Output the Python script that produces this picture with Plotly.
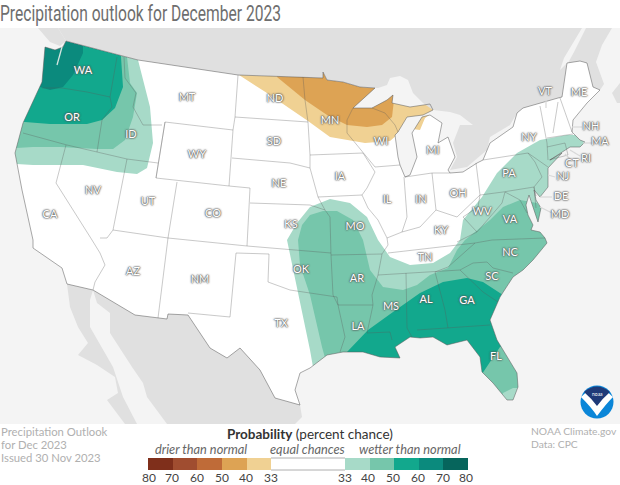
import plotly.graph_objects as go

# Mapa dibujado en coordenadas de la imagen (x 0-620, y 0-485, y hacia abajo)
PANEL_TOP, PANEL_BOTTOM = 28, 424

# Contorno de EEUU, en sentido horario
border_north = [(66, 41), (138, 60), (238, 75), (303, 77), (323, 78), (323, 72), (327, 80), (343, 82),
                (360, 87), (375, 88)]
lakes_shore = [(353, 108), (372, 108), (387, 100), (393, 95), (392, 103), (410, 107), (430, 104), (433, 110),
               (423, 115), (407, 117), (398, 132), (395, 135), (398, 157), (400, 165), (405, 177), (410, 175),
               (417, 157), (412, 133), (422, 117), (430, 115), (442, 123), (438, 143), (448, 137), (455, 157),
               (448, 170), (450, 173), (463, 172), (477, 163), (483, 160), (490, 143), (513, 127), (517, 113)]
border_east = [(523, 108), (558, 98), (562, 97), (567, 63)]
atlantic = [(580, 61), (587, 63), (593, 87), (600, 90), (587, 103), (573, 120), (572, 132), (580, 140), (585, 142),
            (580, 147), (570, 147), (550, 160), (562, 153), (548, 168), (548, 187), (540, 197), (534, 190),
            (536, 200), (541, 208), (538, 222), (535, 213), (531, 200), (529, 195), (526, 205), (528, 215),
            (533, 225), (531, 230), (540, 232), (545, 238), (547, 243), (533, 260), (523, 270), (513, 277),
            (500, 297), (490, 320), (497, 340), (517, 373), (518, 387), (513, 400), (507, 400), (493, 383),
            (482, 372), (480, 357), (467, 340), (447, 345), (433, 337), (420, 338), (410, 337), (395, 347),
            (400, 358), (380, 357), (363, 352), (343, 352), (327, 355), (310, 368), (300, 373), (295, 390),
            (300, 405)]
border_south = [(275, 398), (260, 370), (240, 348), (227, 358), (210, 348), (188, 315), (168, 314), (167, 319),
                (158, 318), (135, 315), (93, 290), (67, 284)]
pacific = [(62, 268), (33, 248), (33, 240), (22, 190), (15, 153), (23, 123), (42, 82), (43, 70), (45, 47), (55, 50),
           (63, 47)]
us_outline = border_north + lakes_shore + border_east + atlantic + border_south + pacific
puget_sound = [[(62, 47), (60, 55), (57, 65)]]

# Paises vecinos
canada_shore = [(378, 88), (387, 85), (390, 78), (400, 76), (408, 80), (413, 93), (423, 103), (433, 110), (450, 112),
                (460, 115), (473, 125), (460, 125), (453, 143), (457, 157), (450, 170), (467, 167), (487, 150),
                (490, 137), (510, 125), (517, 113)]
canada = ([(58, 28), (582, 28), (564, 58), (560, 70), (567, 63)] + border_east[::-1] + canada_shore[::-1]
          + border_north[::-1])
canada_east = [(586, 28), (612, 28), (602, 45), (596, 62), (604, 84), (600, 90), (593, 87), (587, 63), (580, 61),
               (568, 63), (574, 52)]
nova_scotia = [(620, 83), (612, 93), (617, 103), (620, 103)]
vancouver_island = [(38, 28), (58, 28), (66, 41), (60, 46), (50, 42)]
mexico = ([(93, 290)] + border_south[:10][::-1] + [(300, 405), (302, 417), (295, 424), (167, 424), (147, 397),
          (143, 383), (132, 367), (110, 333), (110, 313), (97, 303)])
baja = [(67, 284), (93, 290), (90, 300), (90, 327), (113, 367), (123, 397), (137, 424), (125, 424), (107, 400),
        (118, 393), (115, 377), (97, 365), (78, 355), (88, 343), (78, 327), (70, 307)]

# Limites entre estados
state_lines = [
    [(42, 88), (62, 88), (87, 92), (110, 97)],
    [(117, 57), (110, 97), (112, 107), (102, 120), (97, 152)],
    [(23, 133), (67, 145), (97, 152), (127, 159), (158, 163)],
    [(124, 57), (125, 78), (136, 93), (133, 107), (143, 125), (162, 125)],
    [(165, 122), (233, 130), (229, 186), (156, 178), (165, 122)],
    [(165, 122), (158, 163), (156, 178)],
    [(238, 75), (235, 117), (233, 130)],
    [(235, 117), (308, 122)],
    [(232, 158), (290, 163), (310, 168)],
    [(303, 77), (305, 100), (308, 122), (310, 155), (310, 168), (318, 197), (325, 210), (330, 217), (331, 255),
     (333, 295), (338, 305)],
    [(310, 155), (363, 153)],
    [(229, 186), (250, 188), (247, 246), (168, 238), (177, 182)],
    [(250, 203), (310, 205), (325, 210)],
    [(247, 246), (331, 253)],
    [(236, 253), (269, 254), (268, 282), (290, 290), (310, 293), (337, 297), (338, 305), (345, 337), (340, 352)],
    [(338, 305), (373, 305)],
    [(236, 253), (230, 317), (188, 313)],
    [(168, 238), (158, 318)],
    [(66, 145), (56, 183), (92, 240), (100, 253), (105, 265), (95, 282), (93, 290)],
    [(127, 159), (113, 230), (168, 238)],
    [(113, 230), (107, 238), (100, 238)],
    [(353, 108), (347, 120), (347, 133), (363, 153), (375, 167), (400, 165)],
    [(363, 153), (375, 172), (367, 188), (362, 195)],
    [(318, 197), (362, 195), (368, 208), (378, 220), (387, 238), (388, 245), (382, 254), (331, 255)],
    [(372, 108), (385, 113), (395, 125), (398, 132)],
    [(404, 177), (407, 217), (402, 232)],
    [(405, 177), (432, 173), (436, 210)],
    [(432, 173), (450, 173)],
    [(476, 163), (480, 195)],
    [(387, 238), (402, 232), (420, 227), (436, 210), (457, 217), (467, 207), (480, 195)],
    [(480, 195), (503, 192), (534, 187)],
    [(483, 160), (528, 153), (535, 162), (542, 177), (534, 187), (536, 196)],
    [(528, 153), (548, 167)],
    [(540, 106), (547, 143), (548, 160)],
    [(558, 102), (553, 133)],
    [(547, 138), (573, 134)],
    [(560, 98), (572, 132)],
    [(547, 147), (565, 143), (568, 155)],
    [(549, 160), (568, 155)],
    [(480, 195), (478, 207), (463, 217), (477, 232), (490, 217), (502, 203), (505, 192)],
    [(505, 192), (520, 200), (527, 213)],
    [(534, 187), (536, 208)],
    [(477, 232), (457, 242)],
    [(388, 253), (475, 243), (492, 240), (545, 238)],
    [(475, 243), (448, 267), (435, 272)],
    [(378, 275), (435, 272), (460, 270)],
    [(382, 254), (378, 275), (372, 295), (373, 305), (367, 333), (390, 332), (392, 340)],
    [(406, 273), (407, 328), (412, 337)],
    [(435, 272), (445, 310), (448, 328)],
    [(417, 330), (448, 328), (483, 325), (490, 325)],
    [(460, 270), (473, 263), (487, 262), (493, 268), (513, 273)],
    [(460, 270), (483, 292), (498, 302)],
]

# Zonas de probabilidad, los bordes que salen del pais los tapa la mascara
dry_33 = [(239, 72), (239, 75), (267, 93), (308, 121), (330, 137), (347, 140), (365, 143), (390, 141), (405, 128),
          (420, 130), (425, 118), (432, 113), (440, 105), (440, 72)]
dry_40 = [(277, 72), (277, 77), (305, 100), (327, 115), (347, 125), (367, 127), (382, 125), (392, 117), (394, 100),
          (394, 72)]
wet_nw_33 = [(0, 28), (138, 28), (138, 60), (150, 107), (153, 143), (147, 168), (137, 174), (117, 172), (83, 165),
             (33, 165), (0, 163)]
wet_nw_40 = [(0, 28), (127, 28), (127, 57), (130, 83), (137, 93), (133, 117), (125, 140), (113, 149), (97, 149),
             (60, 147), (33, 147), (0, 149)]
wet_nw_50 = [(0, 28), (121, 28), (121, 57), (123, 87), (115, 108), (102, 120), (87, 124), (50, 124), (25, 122),
             (0, 120)]
wet_nw_60 = [(0, 28), (83, 28), (83, 53), (73, 75), (63, 87), (50, 90), (40, 87), (0, 80)]
wet_se_33 = [(620, 135), (620, 424), (313, 424), (313, 367), (310, 350), (295, 280), (287, 240), (297, 223), (310, 207),
             (330, 199), (350, 203), (367, 217), (378, 240), (390, 257), (410, 265), (433, 263), (450, 253), (460, 240),
             (463, 220), (482, 197), (497, 173), (517, 153), (540, 140), (567, 135)]
wet_se_40 = [(620, 230), (620, 388), (513, 388), (503, 393), (490, 424), (327, 424), (327, 365), (322, 347), (310, 295),
             (300, 265), (298, 240), (302, 225), (310, 215), (323, 211), (337, 211), (353, 220), (363, 240), (370, 270),
             (383, 287), (403, 290), (417, 285), (430, 275), (448, 268), (457, 250), (465, 240), (490, 220), (503, 207),
             (520, 200), (537, 203), (545, 213)]
wet_se_50 = [(347, 352), (368, 330), (393, 312), (420, 293), (443, 282), (467, 278), (483, 282), (503, 295), (540, 295),
             (540, 330), (500, 347), (478, 380), (340, 400)]
wet_nw_layers = [wet_nw_33, wet_nw_40, wet_nw_50, wet_nw_60]

# Colores
dry_colors = ["#7f2f1b", "#a04d30", "#bf6b38", "#dda354", "#f0d193"]
wet_colors = ["#a7dac8", "#76c6ab", "#12a88d", "#0b8a7d", "#06655c"]

# Etiquetas de estados
state_names = ["WA", "OR", "ID", "MT", "WY", "NV", "UT", "CO", "CA", "AZ", "NM", "TX", "ND", "SD", "NE", "KS", "OK",
               "MN", "WI", "MI", "IA", "IL", "IN", "OH", "KY", "TN", "MO", "AR", "LA", "MS", "AL", "GA", "FL", "SC",
               "NC", "VA", "WV", "PA", "NY", "NJ", "DE", "MD", "CT", "RI", "MA", "NH", "ME", "VT"]
state_x = [83, 72, 131, 187, 197, 93, 148, 213, 50, 133, 200, 281, 275, 274, 279, 291, 301,
           330, 381, 433, 340, 387, 421, 458, 441, 425, 355, 357, 358, 391, 426, 467, 496, 492,
           510, 510, 482, 509, 529, 563, 561, 560, 572, 586, 600, 591, 579, 545]
state_y = [71, 118, 135, 98, 155, 191, 202, 214, 215, 272, 280, 324, 99, 142, 184, 225, 270,
           121, 142, 151, 177, 200, 200, 194, 231, 258, 227, 279, 327, 307, 300, 301, 357, 277,
           253, 220, 212, 174, 138, 177, 197, 215, 164, 159, 142, 127, 93, 92]
leader_lines = [[(572, 127), (582, 127)], [(583, 143), (592, 143)], [(570, 150), (580, 156)], [(565, 154), (571, 160)],
                [(548, 175), (555, 177)], [(540, 197), (552, 197)], [(540, 207), (552, 213)], [(546, 100), (546, 108)]]

# Leyenda
legend_edges = [148, 173, 197, 222, 247, 271, 345, 370, 394, 419, 443, 468]
legend_colors = dry_colors + ["#ffffff"] + wet_colors
legend_ticks = ["80", "70", "60", "50", "40", "33", "33", "40", "50", "60", "70", "80"]
legend_tick_x = [149, 172, 197, 222, 246, 271, 345, 368, 393, 418, 443, 466]


def polygon(points, color):
    xs = [p[0] for p in points] + [points[0][0]]
    ys = [p[1] for p in points] + [points[0][1]]
    return go.Scatter(x=xs, y=ys, mode="lines", fill="toself", fillcolor=color,
                      line=dict(width=0, color=color), hoverinfo="skip")


def lines(paths, color, width):
    xs, ys = [], []
    for path in paths:
        xs += [p[0] for p in path] + [None]
        ys += [p[1] for p in path] + [None]
    return go.Scatter(x=xs, y=ys, mode="lines", line=dict(color=color, width=width), hoverinfo="skip")


fig = go.Figure()

fig.add_trace(polygon(us_outline, "#ffffff"))
for layer, color in zip(wet_nw_layers, wet_colors):
    fig.add_trace(polygon(layer, color))
fig.add_trace(polygon(wet_se_33, wet_colors[0]))
fig.add_trace(polygon(wet_se_40, wet_colors[1]))
fig.add_trace(polygon(wet_se_50, wet_colors[2]))
fig.add_trace(polygon(dry_33, dry_colors[4]))
fig.add_trace(polygon(dry_40, dry_colors[3]))

# Mascara con el pais como hueco, asi las zonas quedan recortadas a la costa
frame = [(0, PANEL_TOP), (0, PANEL_BOTTOM), (620, PANEL_BOTTOM), (620, PANEL_TOP), (0, PANEL_TOP)]
fig.add_trace(polygon(frame + us_outline + [us_outline[0], frame[0]], "#f4f4f4"))

for land in [canada, canada_east, nova_scotia, vancouver_island, mexico, baja]:
    fig.add_trace(polygon(land, "#e0e0e0"))

fig.add_trace(lines(state_lines, "rgba(90,90,90,0.55)", 0.6))
fig.add_trace(lines([us_outline + [us_outline[0]]], "rgba(90,90,90,0.75)", 0.7))
fig.add_trace(lines(puget_sound, "#d5e4e0", 1.3))
fig.add_trace(lines(leader_lines, "#d8d8d8", 1.2))

fig.add_trace(go.Scatter(x=state_x, y=state_y, text=state_names, mode="text", hoverinfo="skip",
                         textfont=dict(family="Lato", size=11, color="#ffffff",
                                       shadow="0 0 2px #555, 0 0 2px #555, 0 0 1px #555")))

# Barra de la leyenda
fig.add_trace(go.Bar(y=[464] * 11, base=legend_edges[:-1],
                     x=[b - a for a, b in zip(legend_edges[:-1], legend_edges[1:])],
                     orientation="h", width=12, marker=dict(color=legend_colors, line=dict(width=0)),
                     hoverinfo="skip"))
fig.add_trace(lines([[(271, 458), (345, 458)], [(271, 470), (345, 470)]], "#999999", 0.8))
fig.add_trace(go.Scatter(x=legend_tick_x, y=[479] * 12, text=legend_ticks, mode="text", hoverinfo="skip",
                         textfont=dict(family="Lato", size=12, color="#444444")))

fig.update_xaxes(range=[0, 620], visible=False, fixedrange=True)
fig.update_yaxes(range=[485, 0], visible=False, fixedrange=True)


def note(x, y, text, size, color, anchor="left"):
    fig.add_annotation(x=x, y=y, text=text, showarrow=False, xanchor=anchor, yanchor="middle",
                       borderpad=0, font=dict(family="Lato", size=size, color=color))


note(0, 431, "Precipitation Outlook", 11.3, "#b0b0b0")
note(0, 444, "for Dec 2023", 11.3, "#b0b0b0")
note(0, 457, "Issued 30 Nov 2023", 11.3, "#b0b0b0")
note(530, 431, "NOAA Climate.gov", 10.3, "#b0b0b0")
note(530, 444, "Data: CPC", 10.3, "#b0b0b0")
note(310, 434, "<b>Probability</b> (percent chance)", 13.5, "#333333", "center")
note(201, 449, "<i>drier than normal</i>", 12.8, "#666666", "center")
note(307, 449, "<i>equal chances</i>", 12.8, "#666666", "center")
note(410, 449, "<i>wetter than normal</i>", 12.8, "#666666", "center")

# Logo de NOAA
logo = [
    dict(type="circle", x0=580.5, x1=613.5, y0=385.5, y1=418.5, fillcolor="#0b86d8", line_width=0),
    dict(type="path", path="M 581 397 Q 597 380 613 397 Q 606 404 597 416 Q 592 408 581 397 Z",
         fillcolor="#ffffff", line_width=0),
    dict(type="path", path="M 584 392 Q 597 381 610 392 Q 603 398 597 406 Q 591 398 584 392 Z",
         fillcolor="#1f3a78", line_width=0),
]
for shape in logo:
    fig.add_shape(xref="x", yref="y", layer="above", **shape)
fig.add_annotation(x=597, y=394, text="noaa", showarrow=False, font=dict(family="Lato", size=5, color="#ffffff"))

fig.update_layout(width=620, height=485, margin=dict(l=0, r=0, t=0, b=0), showlegend=False,
                  plot_bgcolor="#ffffff", paper_bgcolor="#ffffff", barmode="overlay",
                  title=dict(text="Precipitation outlook for December 2023", x=0, xref="paper", xanchor="left",
                             y=0.973, yref="container", yanchor="middle", pad=dict(l=0, t=0, b=0, r=0),
                             font=dict(family="Roboto", size=22, color="#6e6e6e")))

# El navegador pone 8px de margen en el body; no hay fuente condensada, se comprime el titulo
post = """
document.body.style.margin = '0';
var t = document.querySelector('.gtitle');
t.setAttribute('textLength', '281');
t.setAttribute('lengthAdjust', 'spacingAndGlyphs');
"""
fig.write_html("out.html", post_script=post, config=dict(displayModeBar=False))
